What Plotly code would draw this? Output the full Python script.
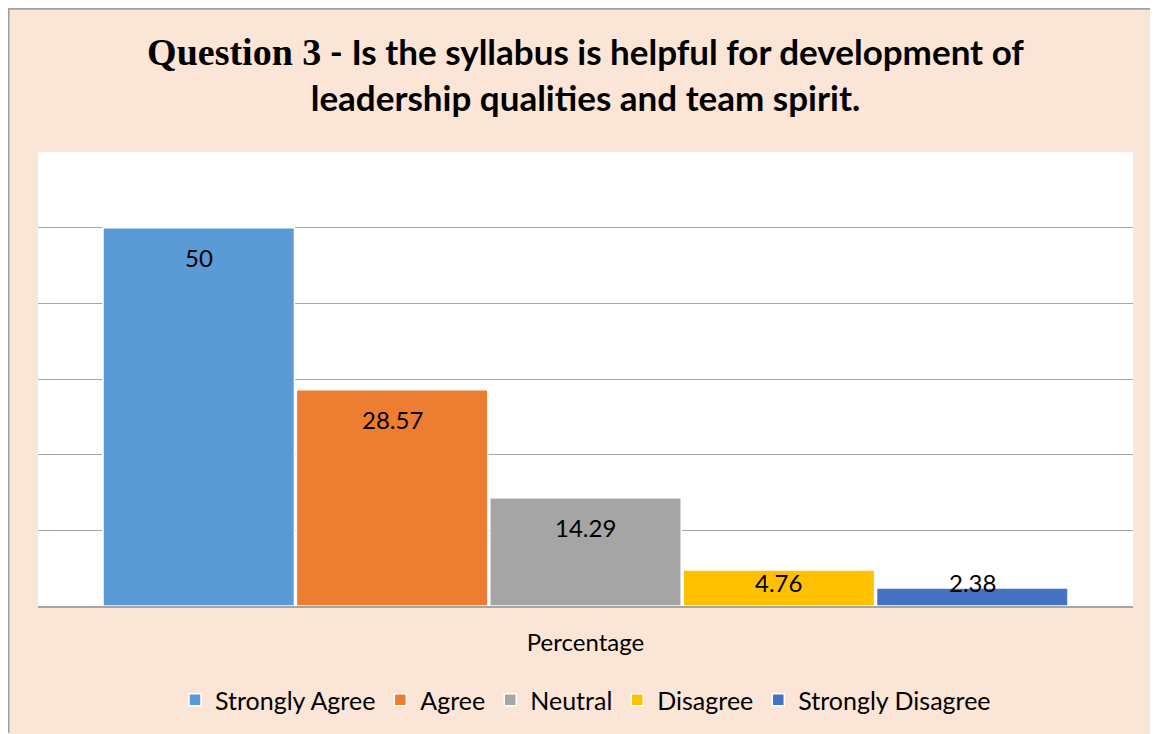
import plotly.graph_objects as go

categories = ["Percentage"]
series_names = ["Strongly Agree", "Agree", "Neutral", "Disagree", "Strongly Disagree"]
series_values = [50, 28.57, 14.29, 4.76, 2.38]
series_labels = ["50", "28.57", "14.29", "4.76", "2.38"]
colors = ["#5B9BD5", "#ED7D31", "#A5A5A5", "#FFC000", "#4472C4"]

# the page body adds an 8px white margin at top/left
W, H = 1150, 726
ML, MR, MT, MB = 30, 25, 144, 127
PW, PH = W - ML - MR, H - MT - MB
YMAX = 60
BARGAP = 0.117
FONT = "Lato"

fig = go.Figure()
for name, val, col in zip(series_names, series_values, colors):
    fig.add_trace(go.Bar(
        x=categories, y=[val], name=name,
        marker=dict(color=col, line=dict(color="white", width=1.5)),
        hoverinfo="name+y",
    ))

# data labels (inside end, Excel style)
n = len(series_values)
bw = (1 - BARGAP) / n
ppu = PH / YMAX
annotations = []
for i, (val, lab) in enumerate(zip(series_values, series_labels)):
    bar_px = val * ppu
    shift = -min(30, bar_px - 24)
    annotations.append(dict(
        x=(i - (n - 1) / 2) * bw, y=val, xref="x", yref="y",
        text=lab, showarrow=False, yanchor="middle", yshift=shift,
        font=dict(family=FONT, size=24, color="#000000"),
    ))

def px2x(px):
    return (px - ML) / PW

def py2y(py):
    return (H - MB - py) / PH

shapes = [
    dict(type="line", xref="paper", yref="paper", x0=px2x(0), x1=px2x(W), y0=py2y(0.5), y1=py2y(0.5),
         line=dict(color="#A0A0A0", width=2), layer="above"),
    dict(type="line", xref="paper", yref="paper", x0=px2x(0.5), x1=px2x(0.5), y0=py2y(0), y1=py2y(H),
         line=dict(color="#A0A0A0", width=2), layer="above"),
]

title_text = ('<span style="font-family:\'Liberation Serif\';font-size:38px">Question 3</span> - Is the syllabus is helpful for development of'
              '<br>leadership qualities and team spirit.')

fig.update_layout(
    width=W, height=H,
    margin=dict(l=ML, r=MR, t=MT, b=MB, pad=0),
    paper_bgcolor="#FBE5D6",
    plot_bgcolor="white",
    barmode="group",
    bargap=BARGAP,
    bargroupgap=0.01,
    title=dict(text=title_text, x=0.5, xref="paper", xanchor="center",
               y=1 - 57 / H, yanchor="middle",
               font=dict(family=FONT, size=35, color="#000000", weight="bold")),
    xaxis=dict(type="category", showgrid=False, showline=True, linecolor="#A6A6A6", linewidth=1.5,
               ticks="outside", ticklen=0, tickfont=dict(family=FONT, size=24, color="#000000"),
               ticklabelstandoff=14),
    yaxis=dict(range=[0, YMAX], dtick=10, showticklabels=False, showgrid=True,
               gridcolor="#A6A6A6", gridwidth=1, zeroline=False, showline=False, fixedrange=True),
    legend=dict(orientation="h", x=0.5, xanchor="center", y=py2y(692), yanchor="middle",
                font=dict(family=FONT, size=25, color="#000000"), bgcolor="rgba(0,0,0,0)",
                itemwidth=30),
    annotations=annotations,
    shapes=shapes,
    showlegend=True,
)

fig.write_html("out.html", post_script="document.body.style.overflow='hidden';")
